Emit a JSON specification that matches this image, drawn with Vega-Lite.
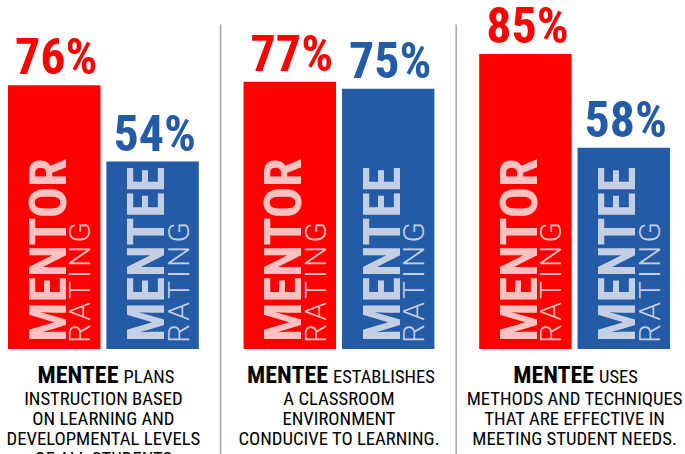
{
  "$schema": "https://vega.github.io/schema/vega-lite/v6.json",
  "width": 662,
  "height": 454,
  "padding": {"left": 8, "right": 15, "top": 0, "bottom": 0},
  "autosize": {"type": "none"},
  "background": "white",
  "config": {"view": {"stroke": null}},
  "datasets": {
    "bars": [
      {"group": "Plans instruction", "rater": "Mentor", "value": 76, "label": "76%", "name": "MENTOR"},
      {"group": "Plans instruction", "rater": "Mentee", "value": 54, "label": "54%", "name": "MENTEE"},
      {"group": "Classroom environment", "rater": "Mentor", "value": 77, "label": "77%", "name": "MENTOR"},
      {"group": "Classroom environment", "rater": "Mentee", "value": 75, "label": "75%", "name": "MENTEE"},
      {"group": "Effective methods", "rater": "Mentor", "value": 85, "label": "85%", "name": "MENTOR"},
      {"group": "Effective methods", "rater": "Mentee", "value": 58, "label": "58%", "name": "MENTEE"}
    ],
    "captions": [
      {"group": "Plans instruction", "head": "MENTEE", "first": "PLANS", "body": "INSTRUCTION BASED\nON LEARNING AND\nDEVELOPMENTAL LEVELS\nOF ALL STUDENTS"},
      {"group": "Classroom environment", "head": "MENTEE", "first": "ESTABLISHES", "body": "A CLASSROOM\nENVIRONMENT\nCONDUCIVE TO LEARNING."},
      {"group": "Effective methods", "head": "MENTEE", "first": "USES", "body": "METHODS AND TECHNIQUES\nTHAT ARE EFFECTIVE IN\nMEETING STUDENT NEEDS."}
    ],
    "separators": [
      {"group": "Classroom environment"},
      {"group": "Effective methods"}
    ]
  },
  "layer": [
    {
      "data": {"name": "bars"},
      "mark": {"type": "bar"},
      "encoding": {
        "x": {"field": "group", "type": "nominal", "scale": {"domain": ["Plans instruction", "Classroom environment", "Effective methods"], "paddingInner": 0.19, "paddingOuter": 0}, "axis": null},
        "xOffset": {"field": "rater", "type": "nominal", "scale": {"domain": ["Mentor", "Mentee"], "paddingInner": 0.06, "paddingOuter": 0}},
        "y": {"field": "value", "type": "quantitative", "scale": {"domain": [-30.3, 100.6], "nice": false, "zero": false}, "axis": null},
        "y2": {"datum": 0},
        "color": {"field": "rater", "type": "nominal", "scale": {"domain": ["Mentor", "Mentee"], "range": ["#ff0000", "#235ba6"]}, "legend": null}
      }
    },
    {
      "data": {"name": "separators"},
      "mark": {"type": "rule", "color": "#a6a6a6", "strokeWidth": 1.5, "xOffset": -23},
      "encoding": {
        "x": {"field": "group", "type": "nominal", "bandPosition": 0},
        "y": {"datum": 93.5},
        "y2": {"datum": -30.3}
      }
    },
    {
      "data": {"name": "bars"},
      "mark": {"type": "text", "font": "Liberation Sans Narrow, Arial Narrow, Roboto Condensed, Roboto, sans-serif", "fontWeight": "bold", "fontSize": 50, "baseline": "alphabetic", "align": "center", "dy": -11, "dx": 2},
      "encoding": {
        "x": {"field": "group", "type": "nominal"},
        "xOffset": {"field": "rater", "type": "nominal"},
        "y": {"field": "value", "type": "quantitative"},
        "text": {"field": "label"},
        "color": {"condition": {"test": "datum.rater === 'Mentor'", "value": "#ff0000"}, "value": "#235ba6"}
      }
    },
    {
      "data": {"name": "bars"},
      "mark": {"type": "text", "font": "Liberation Sans Narrow, Arial Narrow, Roboto Condensed, Roboto, sans-serif", "fontWeight": "bold", "fontSize": 52, "angle": 270, "baseline": "alphabetic", "align": "left", "dx": 7, "dy": 11.5},
      "encoding": {
        "x": {"field": "group", "type": "nominal"},
        "xOffset": {"field": "rater", "type": "nominal"},
        "y": {"datum": 0},
        "text": {"field": "name"},
        "color": {"condition": {"test": "datum.rater === 'Mentor'", "value": "#ffc0c0"}, "value": "#c5cfe3"}
      }
    },
    {
      "data": {"name": "bars"},
      "mark": {"type": "text", "font": "Roboto, Liberation Sans, sans-serif", "fontWeight": 300, "fontSize": 30, "angle": 270, "baseline": "alphabetic", "align": "left", "dx": 6, "dy": 36},
      "encoding": {
        "x": {"field": "group", "type": "nominal"},
        "xOffset": {"field": "rater", "type": "nominal"},
        "y": {"datum": 0},
        "text": {"value": "R\u200aA\u200aT\u200aI\u200aN\u200aG"},
        "color": {"condition": {"test": "datum.rater === 'Mentor'", "value": "#ffc0c0"}, "value": "#c5cfe3"}
      }
    },
    {
      "data": {"name": "captions"},
      "mark": {"type": "text", "font": "Liberation Sans Narrow, Arial Narrow, Roboto Condensed, Roboto, sans-serif", "fontSize": 18.7, "align": "center", "baseline": "alphabetic", "lineBreak": "\n", "lineHeight": 20, "dy": 56, "color": "#000000"},
      "encoding": {
        "x": {"field": "group", "type": "nominal"},
        "y": {"datum": 0},
        "text": {"field": "body"}
      }
    },
    {
      "data": {"name": "captions"},
      "transform": [{"filter": "datum.first === 'PLANS'"}],
      "mark": {"type": "text", "font": "Liberation Sans Narrow, Arial Narrow, Roboto Condensed, Roboto, sans-serif", "fontWeight": "bold", "fontSize": 24, "align": "right", "baseline": "alphabetic", "dx": 15, "dy": 34, "color": "#000000"},
      "encoding": {"x": {"field": "group", "type": "nominal"}, "y": {"datum": 0}, "text": {"field": "head"}}
    },
    {
      "data": {"name": "captions"},
      "transform": [{"filter": "datum.first === 'PLANS'"}],
      "mark": {"type": "text", "font": "Liberation Sans Narrow, Arial Narrow, Roboto Condensed, Roboto, sans-serif", "fontSize": 18.5, "align": "left", "baseline": "alphabetic", "dx": 20, "dy": 34, "color": "#000000"},
      "encoding": {"x": {"field": "group", "type": "nominal"}, "y": {"datum": 0}, "text": {"field": "first"}}
    },
    {
      "data": {"name": "captions"},
      "transform": [{"filter": "datum.first === 'ESTABLISHES'"}],
      "mark": {"type": "text", "font": "Liberation Sans Narrow, Arial Narrow, Roboto Condensed, Roboto, sans-serif", "fontWeight": "bold", "fontSize": 24, "align": "right", "baseline": "alphabetic", "dx": -11, "dy": 34, "color": "#000000"},
      "encoding": {"x": {"field": "group", "type": "nominal"}, "y": {"datum": 0}, "text": {"field": "head"}}
    },
    {
      "data": {"name": "captions"},
      "transform": [{"filter": "datum.first === 'ESTABLISHES'"}],
      "mark": {"type": "text", "font": "Liberation Sans Narrow, Arial Narrow, Roboto Condensed, Roboto, sans-serif", "fontSize": 18.5, "align": "left", "baseline": "alphabetic", "dx": -6, "dy": 34, "color": "#000000"},
      "encoding": {"x": {"field": "group", "type": "nominal"}, "y": {"datum": 0}, "text": {"field": "first"}}
    },
    {
      "data": {"name": "captions"},
      "transform": [{"filter": "datum.first === 'USES'"}],
      "mark": {"type": "text", "font": "Liberation Sans Narrow, Arial Narrow, Roboto Condensed, Roboto, sans-serif", "fontWeight": "bold", "fontSize": 24, "align": "right", "baseline": "alphabetic", "dx": 19.5, "dy": 34, "color": "#000000"},
      "encoding": {"x": {"field": "group", "type": "nominal"}, "y": {"datum": 0}, "text": {"field": "head"}}
    },
    {
      "data": {"name": "captions"},
      "transform": [{"filter": "datum.first === 'USES'"}],
      "mark": {"type": "text", "font": "Liberation Sans Narrow, Arial Narrow, Roboto Condensed, Roboto, sans-serif", "fontSize": 18.5, "align": "left", "baseline": "alphabetic", "dx": 24.5, "dy": 34, "color": "#000000"},
      "encoding": {"x": {"field": "group", "type": "nominal"}, "y": {"datum": 0}, "text": {"field": "first"}}
    }
  ]
}
